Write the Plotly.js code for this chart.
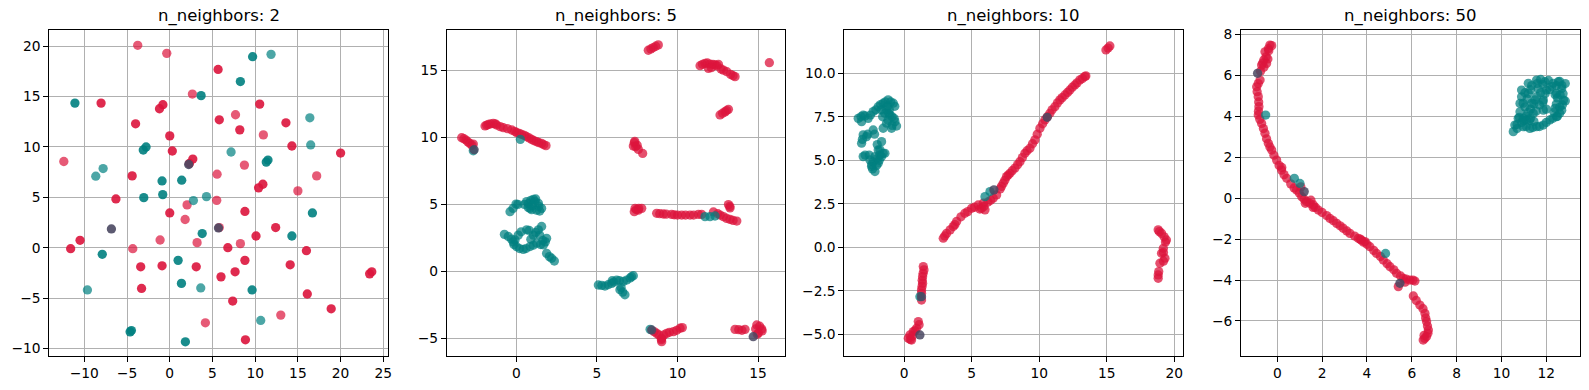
<!DOCTYPE html>
<html>
<head>
<meta charset="utf-8">
<script src="https://cdn.plot.ly/plotly-3.0.1.min.js"></script>
<style>html,body{margin:0;padding:0;background:#fff;}#chart{width:1589px;height:390px;}</style>
</head>
<body>
<div id="chart"></div>
<script>
// ---------------- DATA ----------------
const titles = ["n_neighbors: 2", "n_neighbors: 5", "n_neighbors: 10", "n_neighbors: 50"];

// Panel 1 (n_neighbors: 2)
const p1_red_x = [5.66,-8.04,-0.8,-1.2,10.53,-4.0,5.8,13.6,8.2,0,14.3,0.3,20.0,2.7,2.3,-4.4,10.9,10.4,-6.3,0,8.8,12.4,10.1,-10.5,-11.6,6.8,16.0,8.8,-3.4,-0.9,3.1,14.1,7.65,23.4,23.65,6.0,-3.3,16.1,7.37,18.9,8.86];
const p1_red_y = [17.7,14.36,14.2,13.8,14.26,12.3,12.7,12.4,11.7,11.1,10.1,9.6,9.4,8.8,8.36,7.13,6.3,5.94,4.84,3.45,3.6,2.0,1.16,0.73,-0.1,0,-0.3,-1.26,-1.9,-1.8,-1.9,-1.7,-2.4,-2.6,-2.4,-2.9,-4.05,-4.6,-5.3,-6.07,-9.15];
const p1_redLight_x = [-3.75,-0.35,2.65,7.7,10.96,-12.4,8.74,17.2,5.54,15.0,5.5,2.03,1.8,5.8,-1.13,3.2,-4.33,8.27,13.0,4.17];
const p1_redLight_y = [20.1,19.3,15.26,13.2,11.2,8.56,8.2,7.13,7.3,5.64,4.7,4.25,2.8,2.0,0.76,0.5,-0.1,0.4,-6.7,-7.46];
const p1_teal_x = [9.7,8.27,3.67,-11.1,-2.77,-3.1,11.5,11.3,-0.9,1.4,-0.82,-3.04,3.8,14.3,16.7,-7.9,0.98,1.37,9.64,-4.64,-4.49,1.83];
const p1_teal_y = [18.97,16.5,15.1,14.36,10.0,9.7,8.7,8.5,6.63,6.7,5.27,4.97,1.4,1.16,3.45,-0.66,-1.26,-3.55,-4.2,-8.36,-8.23,-9.35];
const p1_tealLight_x = [11.86,16.4,16.5,7.18,-7.8,-8.66,4.3,2.77,3.63,-9.64,10.65];
const p1_tealLight_y = [19.2,12.9,10.2,9.5,7.86,7.1,5.07,4.68,-4.0,-4.2,-7.23];
const p1_mixed_x = [-6.83,2.22,5.7];
const p1_mixed_y = [1.86,8.26,1.96];

// Panel 2 (n_neighbors: 5)
const p2_red_x = [-3.39,-3.25,-3.12,-3.0,-2.88,-2.75,-2.67,
  -1.94,-1.84,-1.74,-1.6,-1.43,-1.3,-1.22,-1.0,-0.81,-0.55,-0.29,-0.1,0.02,0.18,0.33,0.5,0.64,0.8,0.95,1.1,1.26,1.4,1.57,1.7,1.84,
  7.32,7.41,7.57,7.84,7.26,7.5,7.35,
  8.19,8.35,8.5,8.65,8.81,
  11.4,11.55,11.71,11.85,12.02,12.2,12.33,12.45,12.54,12.7,12.85,13.06,13.3,13.45,13.57,11.92,12.1,
  15.7,
  12.64,12.8,12.95,13.05,13.16,
  7.37,7.45,7.57,7.6,7.78,7.32,
  8.71,8.9,9.12,9.3,9.64,9.8,10.0,10.26,10.5,10.78,11.0,11.3,11.5,12.23,12.5,12.65,12.85,13.05,13.26,13.45,13.68,13.16,13.26,13.25,
  8.55,8.71,8.85,9.02,9.15,9.33,9.5,9.75,9.95,10.16,10.3,9.02,9.0,
  13.57,13.8,14.0,14.19,14.85,14.92,15.1,15.23,15.25,15.02,14.95];
const p2_red_y = [9.97,9.9,9.8,9.65,9.55,9.4,9.5,
  10.85,10.9,10.97,11.0,11.04,11.0,10.92,10.8,10.72,10.65,10.55,10.45,10.35,10.3,10.22,10.15,10.05,9.95,9.85,9.75,9.68,9.6,9.55,9.45,9.38,
  9.6,9.3,9.1,8.8,9.35,9.4,9.7,
  16.5,16.6,16.7,16.8,16.9,
  15.35,15.45,15.52,15.55,15.47,15.45,15.4,15.35,15.45,15.1,15.02,14.9,14.7,14.6,14.53,15.15,15.2,
  15.57,
  11.67,11.8,11.9,12.0,12.09,
  4.7,4.6,4.57,4.7,4.7,4.45,
  4.33,4.3,4.28,4.27,4.25,4.22,4.2,4.2,4.2,4.2,4.2,4.25,4.25,4.43,4.3,4.2,4.08,3.95,3.88,3.8,3.75,4.98,4.73,4.85,
  -4.5,-4.63,-4.75,-5.0,-4.75,-4.63,-4.55,-4.5,-4.4,-4.25,-4.2,-5.25,-5.1,
  -4.33,-4.35,-4.4,-4.33,-4.3,-4.0,-4.1,-4.3,-4.45,-4.6,-4.7];
const p2_teal_x = [-0.39,-0.2,-0.02,0.1,0.5,0.64,0.75,0.9,1.06,1.2,1.37,0.85,1.0,1.4,1.57,0.74,0.95,1.26,1.16,1.45,
  -0.74,-0.5,-0.3,-0.08,0.12,0.3,0.64,0.8,1.06,1.2,1.37,1.45,1.57,1.65,1.88,1.8,1.68,1.5,1.26,1.05,0.85,0.6,0.43,0.2,0.02,-0.15,-0.19,0.9,1.88,2.05,2.19,2.36,
  5.09,5.3,5.5,5.7,5.92,5.95,6.05,6.23,6.4,6.64,6.85,7.06,7.15,7.26,6.43,6.5,6.6,6.74,
  11.71,12.02,12.33,0.25,-2.67,8.3];
const p2_teal_y = [4.45,4.7,5.02,5.0,5.0,5.2,5.05,5.3,5.37,5.4,5.07,4.7,4.9,4.85,4.7,4.77,4.6,4.57,5.2,4.5,
  2.76,2.6,2.4,2.34,2.7,2.95,3.1,3.05,2.7,2.9,3.1,2.7,3.35,2.3,2.46,2.2,1.97,2.0,2.1,1.95,1.85,1.7,1.64,1.7,1.84,2.0,2.2,2.4,1.34,1.1,0.97,0.77,
  -1.02,-1.05,-1.1,-1.0,-0.9,-0.7,-0.8,-0.65,-0.7,-0.75,-0.65,-0.5,-0.4,-0.33,-1.37,-1.2,-1.55,-1.75,
  4.08,4.08,4.13,9.85,9.0,-4.33];
const p2_mixed_x = [-2.62,8.4,14.7];
const p2_mixed_y = [9.08,-4.38,-4.88];

// Panel 3 (n_neighbors: 10)
const p3_red_x = [2.89,3.0,3.14,3.4,3.63,3.75,3.88,4.2,4.49,4.7,4.99,5.2,5.48,5.6,5.85,5.73,5.9,5.98,6.2,6.4,6.59,6.84,7.1,7.2,7.33,7.45,7.58,7.7,7.83,8.0,8.2,8.4,8.57,8.75,8.94,9.1,9.31,9.5,9.68,9.85,10.05,10.25,10.42,10.6,10.79,10.95,11.16,11.35,11.53,11.7,11.9,12.1,12.27,12.45,12.64,12.8,13.01,13.2,13.38,13.45,
  14.94,15.1,15.23,
  1.41,1.4,1.46,1.36,1.33,1.36,1.32,1.28,1.28,1.28,
  1.1,1.04,0.91,0.8,0.67,0.6,0.45,0.3,0.54,0.42,
  18.81,18.9,19.06,19.25,19.35,19.42,19.19,19.2,19.31,19.2,18.94,18.85,18.81,18.81,19.06];
const p3_red_y = [0.52,0.65,0.8,1.0,1.19,1.3,1.48,1.75,1.95,2.05,2.24,2.3,2.43,2.2,2.53,2.24,2.35,2.15,2.6,2.7,2.82,3.01,3.35,3.5,3.68,3.85,4.06,4.15,4.25,4.4,4.55,4.75,4.92,5.15,5.4,5.55,5.69,5.95,6.17,6.5,6.84,7.1,7.32,7.5,7.7,7.9,8.08,8.3,8.47,8.6,8.75,8.9,9.04,9.2,9.33,9.45,9.62,9.7,9.81,9.85,
  11.34,11.45,11.57,
  -1.11,-1.5,-1.3,-1.69,-1.9,-2.07,-2.25,-2.45,-2.65,-3.03,
  -4.45,-4.27,-4.66,-4.8,-4.85,-5.1,-5.3,-5.23,-5.33,-5.04,
  1.0,0.9,0.8,0.6,0.3,0.42,-0.06,-0.3,-0.63,-0.8,-0.92,-1.4,-1.59,-1.78,-0.34];
const p3_teal_x = [-3.41,-3.2,-3.04,-2.9,-2.67,-2.5,-3.16,-2.3,-2.1,-1.93,-1.75,-1.56,-1.4,-1.19,-1.0,-0.81,-0.7,-1.31,-1.15,-1.06,-0.9,-0.75,-1.2,-0.69,-0.57,-0.94,-0.9,-1.31,-1.6,-1.7,-1.56,-2.3,-2.2,-3.04,-2.7,-3.1,-3.16,-2.79,-1.68,-2.0,-1.93,-1.8,-1.56,-2.17,-2.0,-1.8,-2.54,-2.6,-2.9,-3.04,-2.42,-2.3,-2.35,-2.17,-1.93,-1.68,-1.43,
  -1.45,-1.1,-1.25,-2.4,-2.05,-1.85,
  5.98,6.35,1.16];
const p3_teal_y = [7.41,7.5,7.6,7.55,7.41,7.6,7.22,7.8,7.9,8.08,8.2,8.28,8.35,8.47,8.35,8.28,8.1,7.9,7.7,7.6,7.5,7.4,7.3,7.22,6.97,6.84,7.0,7.13,7.5,7.9,6.84,6.74,6.5,6.46,6.5,6.2,5.98,6.36,6.07,5.9,5.59,5.6,5.4,5.21,5.1,5.3,5.02,5.3,5.3,5.21,4.64,4.9,4.5,4.35,4.83,5.21,5.4,
  7.7,7.9,8.1,4.75,4.7,5.0,
  2.91,3.2,-2.84];
const p3_mixed_x = [6.64,10.59,1.28,1.16];
const p3_mixed_y = [3.3,7.47,-2.84,-5.04];

// Panel 4 (n_neighbors: 50)
const p4_red_x = [-0.33,-0.25,-0.4,-0.55,-0.48,-0.5,-0.6,-0.7,-0.75,-0.77,-0.85,-0.92,-0.9,-0.85,-0.83,-0.82,-0.84,-0.85,-0.78,-0.7,-0.62,-0.55,-0.48,-0.4,-0.33,-0.25,-0.15,-0.03,0.08,0.19,0.2,0.3,0.42,0.6,0.75,0.86,0.98,1.05,1.09,1.2,1.31,1.45,1.5,1.61,1.7,1.83,2.0,2.2,2.35,2.5,2.65,2.8,2.94,3.1,3.24,3.45,3.61,3.7,3.75,3.91,4.0,4.13,4.3,4.43,4.6,4.73,4.9,5.03,5.2,5.32,5.5,5.62,5.75,5.92,6.05,6.14,6.07,6.2,6.36,6.5,6.59,6.62,6.66,6.7,6.74,6.72,6.66,6.58,6.51,5.4,
  -0.42,-0.6,-0.38,-0.65,1.25,1.6,3.85,5.7,6.55];
const p4_red_y = [7.48,7.45,7.3,7.15,6.58,6.9,6.75,6.5,6.2,5.77,5.6,5.44,5.2,4.96,4.7,4.47,4.25,4.06,3.85,3.65,3.4,3.17,2.9,2.68,2.5,2.35,2.1,1.86,1.6,1.37,1.5,1.15,0.97,0.7,0.5,0.4,0.25,0.55,0.07,-0.05,-0.17,-0.25,-0.1,-0.33,-0.45,-0.58,-0.7,-0.85,-0.99,-1.1,-1.23,-1.35,-1.47,-1.6,-1.72,-1.85,-1.96,-2.0,-2.05,-2.12,-2.25,-2.37,-2.55,-2.7,-2.85,-3.02,-3.2,-3.35,-3.5,-3.67,-3.8,-3.92,-3.95,-4.0,-4.0,-4.05,-4.78,-5.0,-5.22,-5.4,-5.63,-5.85,-6.03,-6.25,-6.44,-6.6,-6.76,-6.85,-6.93,-4.32,
  6.8,6.4,7.2,6.6,-0.25,-0.45,-2.15,-4.1,-6.7];
const p4_teal_x = [-0.52,0.76,1.01,4.83,
  10.53,10.7,10.6,10.9,10.75,11.1,10.83,10.97,10.8,11.05,11.15,10.9,10.9,11.05,11.2,11.35,11.57,11.75,11.94,12.1,12.31,12.45,12.54,12.7,12.69,12.62,12.77,12.85,12.72,12.69,12.6,12.46,12.3,12.16,12.0,11.87,11.7,11.57,11.4,11.27,11.1,10.97,11.12,11.25,11.42,11.3,11.35,11.5,11.57,11.75,11.87,11.85,12.01,12.15,12.39,12.45,12.5,12.35,11.87,11.64,11.2,12.46,10.83,10.97,11.45,
  11.45,11.55,11.7,11.85,11.95,11.6,11.3,12.25,12.4,12.6,12.5,12.0,11.2,11.0,10.7,11.3,12.75,12.85,12.6];
const p4_teal_y = [4.06,0.97,0.72,-2.7,
  3.25,3.4,3.57,3.7,3.9,4.0,4.22,4.63,3.95,4.45,4.85,4.95,5.28,5.15,5.61,5.5,5.77,5.8,5.69,5.75,5.61,5.5,5.69,5.5,5.36,5.05,4.79,4.75,4.55,4.3,4.15,3.98,3.9,3.82,3.7,3.57,3.5,3.49,3.45,3.41,3.5,3.49,3.82,3.8,4.14,4.35,4.63,4.8,4.96,5.15,4.79,5.55,5.28,5.3,4.39,4.6,4.9,4.2,4.3,5.36,5.12,5.12,4.63,3.9,3.75,
  4.6,4.25,4.55,4.7,5.1,5.6,5.3,5.45,5.05,4.45,4.0,4.35,4.2,3.8,3.6,3.9,5.1,5.6,5.7];
const p4_mixed_x = [-0.88,1.2,5.47];
const p4_mixed_y = [6.1,0.32,-4.16];

// ---------------- STYLE / LAYOUT ----------------
const RED = '#DC143C', TEAL = '#008080', MIXED = '#4a4862';
const W = 1589, H = 390;
const MS = 9.3;
const FONT = 'DejaVu Sans, Liberation Sans, sans-serif';

function pts(x, y, color, op, ax) {
  return {type:'scatter', mode:'markers', x:x, y:y, xaxis:'x'+ax, yaxis:'y'+ax,
    marker:{color:color, size:MS, opacity:op, line:{width:0}}, hoverinfo:'skip', showlegend:false};
}
const traces = [
  pts(p1_red_x, p1_red_y, RED, 0.9, ''),
  pts(p1_redLight_x, p1_redLight_y, RED, 0.7, ''),
  pts(p1_teal_x, p1_teal_y, TEAL, 0.9, ''),
  pts(p1_tealLight_x, p1_tealLight_y, TEAL, 0.7, ''),
  pts(p1_mixed_x, p1_mixed_y, MIXED, 0.9, ''),
  pts(p2_red_x, p2_red_y, RED, 0.75, '2'),
  pts(p2_teal_x, p2_teal_y, TEAL, 0.72, '2'),
  pts(p2_mixed_x, p2_mixed_y, MIXED, 0.85, '2'),
  pts(p3_red_x, p3_red_y, RED, 0.75, '3'),
  pts(p3_teal_x, p3_teal_y, TEAL, 0.72, '3'),
  pts(p3_mixed_x, p3_mixed_y, MIXED, 0.85, '3'),
  pts(p4_red_x, p4_red_y, RED, 0.75, '4'),
  pts(p4_teal_x, p4_teal_y, TEAL, 0.72, '4'),
  pts(p4_mixed_x, p4_mixed_y, MIXED, 0.85, '4'),
];

// axes boxes in pixels
const boxes = [[49.3,388.3],[446.7,785.3],[844.3,1183.3],[1241,1580.3]];
const yTop = 30.3, yBot = 356;
const xRanges = [[-14.1,25.585],[-4.32,16.69],[-4.44,20.67],[-1.62,13.52]];
const yRanges = [[-10.76,21.59],[-6.32,17.99],[-6.25,12.47],[-7.71,8.2]];
const xD = [5,5,5,2], yD = [5,5,2.5,2], yFmt = ['d','d','.1f','d'];

function axis(domain, range, dtick, fmt, anchor) {
  return {domain:domain, range:range, dtick:dtick, tick0:0, tickformat:fmt, autorange:false,
    showgrid:true, gridcolor:'#b0b0b0', gridwidth:1, zeroline:false,
    showline:true, mirror:true, linecolor:'black', linewidth:1,
    ticks:'outside', ticklen:4.9, tickwidth:1, tickcolor:'black',
    tickfont:{family:FONT, size:13.8, color:'black'}, anchor:anchor, fixedrange:true};
}
const layout = {width:W, height:H, margin:{l:0,r:0,t:0,b:0}, paper_bgcolor:'white', plot_bgcolor:'white',
  showlegend:false, annotations:[], font:{family:FONT}};
const yDom = [1 - yBot/H, 1 - yTop/H];
for (let i = 0; i < 4; i++) {
  const s = i === 0 ? '' : String(i+1);
  const xDom = [boxes[i][0]/W, boxes[i][1]/W];
  layout['xaxis'+s] = axis(xDom, xRanges[i], xD[i], 'd', 'y'+s);
  layout['yaxis'+s] = axis(yDom, yRanges[i], yD[i], yFmt[i], 'x'+s);
  layout.annotations.push({text:titles[i], xref:'paper', yref:'paper', x:(xDom[0]+xDom[1])/2, y:1 - 16/H,
    xanchor:'center', yanchor:'middle', showarrow:false, font:{family:FONT, size:16.5, color:'black'}});
}
Plotly.newPlot('chart', traces, layout, {displayModeBar:false, staticPlot:true});
</script>
</body>
</html>
